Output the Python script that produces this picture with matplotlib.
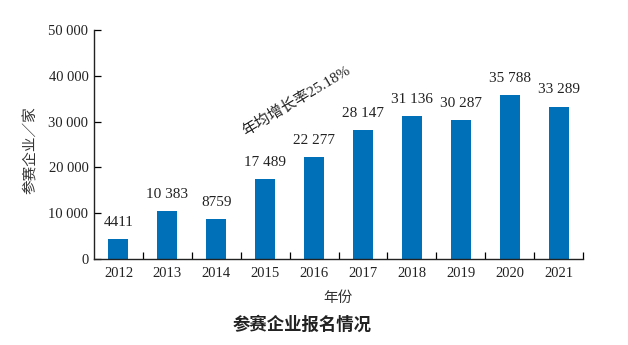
import matplotlib
matplotlib.use("Agg")
import matplotlib.pyplot as plt

years = ["2012", "2013", "2014", "2015", "2016", "2017", "2018", "2019", "2020", "2021"]
values = [4411, 10383, 8759, 17489, 22277, 28147, 31136, 30287, 35788, 33289]
value_labels = ["4411", "10 383", "8759", "17 489", "22 277", "28 147", "31 136", "30 287", "35 788", "33 289"]
yticks = [0, 10000, 20000, 30000, 40000, 50000]
ytick_labels = ["0", "10 000", "20 000", "30 000", "40 000", "50 000"]

fam = ["Liberation Serif", "Noto Sans CJK SC"]
plt.rcParams["font.family"] = fam

fig = plt.figure(figsize=(6.28, 3.45), dpi=100)
ax = fig.add_axes([94/628, 1-259/345, (583-94)/628, (259-30)/345])

x = list(range(len(years)))
ax.bar(x, values, width=0.41, color="#0070B8")
for xi, v, lab in zip(x, values, value_labels):
    ax.text(xi, v + 2200, lab, ha="center", va="bottom", fontsize=11, color="#222222")

ax.set_xlim(-0.5, len(years) - 0.5)
ax.set_ylim(0, 50000)
ax.set_yticks(yticks)
ax.set_yticklabels(ytick_labels, fontsize=10.5, color="#222222")
ax.set_xticks(x)
ax.set_xticklabels(years, fontsize=10.5, color="#222222")
ax.set_xticks([i + 0.5 for i in x], minor=True)
ax.tick_params(axis="x", which="major", length=0, pad=6)
ax.tick_params(axis="x", which="minor", direction="in", length=5, width=0.9)
ax.tick_params(axis="y", direction="in", length=5, width=0.9, pad=4)
for s in ["top", "right"]:
    ax.spines[s].set_visible(False)
for s in ["left", "bottom"]:
    ax.spines[s].set_linewidth(1.0)
    ax.spines[s].set_color("#222222")

fig.text(31/628, 1-150/345, "参赛企业／家", rotation=90, ha="center", va="center",
         fontsize=10.5, color="#333333", family=["Noto Sans CJK SC"])
fig.text(338/628, 1-298/345, "年份", ha="center", va="center", fontsize=10.5,
         color="#333333", family=["Noto Sans CJK SC"])
fig.text(302/628, 1-325/345, "参赛企业报名情况", ha="center", va="center", fontsize=12.5,
         fontweight="bold", color="#222222", family=["Noto Sans CJK SC"])
fig.text(296/628, 1-101/345, "年均增长率25.18%", rotation=31, ha="center", va="center",
         fontsize=11, color="#222222", rotation_mode="anchor")

fig.savefig("out.png", dpi=100)
